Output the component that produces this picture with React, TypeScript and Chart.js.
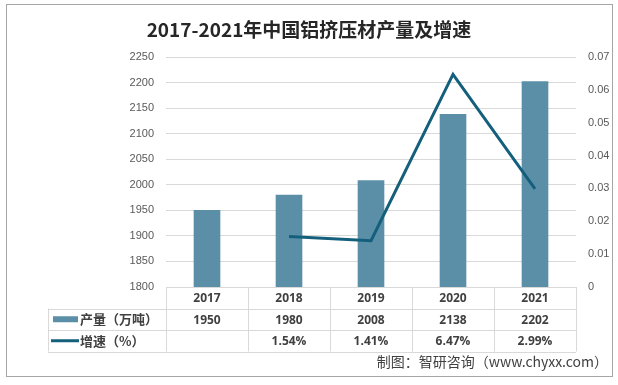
import React, { useEffect, useRef } from "react";
import { Chart, registerables } from "chart.js";

Chart.register(...registerables);

const TITLE = "2017-2021年中国铝挤压材产量及增速";
const SOURCE = "制图：智研咨询（www.chyxx.com）";
const categories = ["2017", "2018", "2019", "2020", "2021"];
const outputValues = [1950, 1980, 2008, 2138, 2202];
const growthValues: (number | null)[] = [null, 0.0154, 0.0141, 0.0647, 0.0299];
const growthLabels = ["", "1.54%", "1.41%", "6.47%", "2.99%"];
const outputName = "产量（万吨）";
const growthName = "增速（%）";

const BAR_COLOR = "#5b8fa8";
const LINE_COLOR = "#145f7c";
const GRID = "#d9d9d9";
const TEXT = "#404040";

const decorPlugin = {
  id: "decor",
  beforeDraw(chart: any) {
    const ctx = chart.ctx;
    ctx.save();
    ctx.fillStyle = "#ffffff";
    ctx.fillRect(0, 0, chart.width, chart.height);
    ctx.restore();
  },
  afterDraw(chart: any) {
    const ctx = chart.ctx;
    const x = chart.scales.x;
    const area = chart.chartArea;
    ctx.save();
    // outer border
    ctx.strokeStyle = "#a6a6a6";
    ctx.lineWidth = 1;
    ctx.strokeRect(6.5, 4.5, 606, 372);
    // title
    ctx.fillStyle = "#262626";
    ctx.font = "bold 19px 'Noto Sans CJK SC'";
    ctx.textAlign = "center";
    ctx.textBaseline = "middle";
    ctx.fillText(TITLE, 309, 30);

    // table
    const rowH = 21.5;
    const top = area.bottom;
    const r1 = top + rowH;
    const r2 = r1 + rowH;
    const r3 = r2 + rowH;
    const tableLeft = 48;
    const n = categories.length;
    const step = x.getPixelForValue(1) - x.getPixelForValue(0);
    ctx.strokeStyle = GRID;
    ctx.lineWidth = 1;
    ctx.beginPath();
    ctx.moveTo(area.left, Math.round(top) + 0.5);
    ctx.lineTo(area.right, Math.round(top) + 0.5);
    [r1, r2, r3].forEach((y) => {
      ctx.moveTo(tableLeft, Math.round(y) + 0.5);
      ctx.lineTo(area.right, Math.round(y) + 0.5);
    });
    for (let i = 0; i <= n; i++) {
      const px = Math.round(x.getPixelForValue(i) - step / 2) + 0.5;
      ctx.moveTo(px, top);
      ctx.lineTo(px, r3);
    }
    ctx.moveTo(tableLeft + 0.5, r1);
    ctx.lineTo(tableLeft + 0.5, r3);
    ctx.stroke();

    ctx.fillStyle = TEXT;
    ctx.font = "bold 12px 'Open Sans'";
    ctx.textAlign = "center";
    ctx.textBaseline = "middle";
    categories.forEach((c, i) => {
      const cx = x.getPixelForValue(i);
      ctx.fillText(c, cx, (top + r1) / 2 + 1);
      ctx.fillText(String(outputValues[i]), cx, (r1 + r2) / 2 + 1);
      ctx.fillText(growthLabels[i], cx, (r2 + r3) / 2 + 1);
    });

    // legend swatches
    ctx.fillStyle = BAR_COLOR;
    ctx.fillRect(53, (r1 + r2) / 2 - 3, 25, 6);
    ctx.strokeStyle = LINE_COLOR;
    ctx.lineWidth = 3;
    ctx.beginPath();
    ctx.moveTo(51, (r2 + r3) / 2);
    ctx.lineTo(79, (r2 + r3) / 2);
    ctx.stroke();

    ctx.fillStyle = TEXT;
    ctx.font = "bold 13px 'Noto Sans CJK SC'";
    ctx.textAlign = "left";
    ctx.fillText(outputName, 80, (r1 + r2) / 2);
    ctx.fillText(growthName, 80, (r2 + r3) / 2);

    // source
    ctx.font = "14px 'Noto Sans CJK SC'";
    ctx.textAlign = "right";
    ctx.fillText(SOURCE, 608, 362);
    ctx.restore();
  },
};

export default function App() {
  const ref = useRef<HTMLCanvasElement | null>(null);
  useEffect(() => {
    if (!ref.current) return;
    const chart = new Chart(ref.current, {
      type: "bar",
      data: {
        labels: categories,
        datasets: [
          {
            type: "line",
            label: growthName,
            data: growthValues,
            yAxisID: "y1",
            borderColor: LINE_COLOR,
            backgroundColor: LINE_COLOR,
            borderWidth: 3,
            pointRadius: 0,
            spanGaps: false,
            order: 0,
          } as any,
          {
            type: "bar",
            label: outputName,
            data: outputValues,
            yAxisID: "y",
            backgroundColor: BAR_COLOR,
            barThickness: 26,
            order: 1,
          } as any,
        ],
      },
      options: {
        responsive: false,
        animation: false,
        layout: { padding: { top: 57, bottom: 98, left: 0, right: 0 } },
        plugins: {
          legend: { display: false },
          title: { display: false },
          tooltip: { enabled: false },
        },
        scales: {
          x: { display: false },
          y: {
            position: "left",
            min: 1800,
            max: 2250,
            ticks: {
              stepSize: 50,
              color: "#595959",
              font: { family: "'Liberation Sans'", size: 11 },
              padding: 12,
              callback: (v: any) => String(v),
            },
            grid: { color: GRID, drawTicks: false },
            border: { display: false },
            afterFit: (s: any) => {
              s.width = 166;
            },
          },
          y1: {
            position: "right",
            min: 0,
            max: 0.07,
            ticks: {
              stepSize: 0.01,
              color: "#595959",
              font: { family: "'Liberation Sans'", size: 11 },
              padding: 12,
              callback: (v: any) => (v === 0 ? "0" : Number(v).toFixed(2)),
            },
            grid: { display: false, drawTicks: false },
            border: { display: false },
            afterFit: (s: any) => {
              s.width = 42;
            },
          },
        },
      },
      plugins: [decorPlugin],
    });
    return () => chart.destroy();
  }, []);
  return (
    <div style={{ position: "fixed", left: 0, top: 0, width: 618, height: 385 }}>
      <canvas ref={ref} width={618} height={385} style={{ width: 618, height: 385 }} />
    </div>
  );
}
